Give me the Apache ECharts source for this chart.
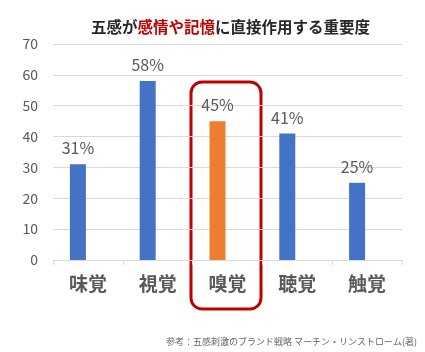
<!DOCTYPE html>
<html>
<head>
<meta charset="utf-8">
<script src="https://cdn.jsdelivr.net/npm/echarts@6/dist/echarts.min.js"></script>
<style>
    html, body { margin: 0; padding: 0; background: #fff; }
    #chart { width: 425px; height: 352px; }
</style>
</head>
<body>
<div id="chart"></div>
<script>
// 五感
var categories = ["味覚", "視覚", "嗅覚", "聴覚", "触覚"];
// 重要度(%)
var importance = [31, 58, 45, 41, 25];
// 強調する項目
var highlightIndex = 2;
// 縦軸の目盛り
var yMin = 0, yMax = 70, yStep = 10;

var font = "'Noto Sans CJK JP', 'Noto Sans', sans-serif";

var barData = importance.map(function (v, i) {
    return {
        value: v,
        itemStyle: {color: i === highlightIndex ? "#ed7d31" : "#4472c4"}
    };
});

var chart = echarts.init(document.getElementById("chart"));
var option = {
    animation: false,
    title: {
        text: "{b|五感が}{r|感情や記憶}{b|に直接作用する重要度}",
        left: 86,
        top: 14,
        textStyle: {
            rich: {
                b: {fontFamily: font, fontSize: 15.5, fontWeight: "bold", color: "#262626"},
                r: {fontFamily: font, fontSize: 15.5, fontWeight: "bold", color: "#c00000"}
            }
        }
    },
    grid: {left: 53, right: 23, top: 44, bottom: 92},
    xAxis: {
        type: "category",
        data: categories,
        axisLine: {lineStyle: {color: "#d9d9d9"}},
        axisTick: {show: true, length: 5, lineStyle: {color: "#d9d9d9"}},
        axisLabel: {
            fontFamily: font,
            fontSize: 19,
            fontWeight: "bold",
            color: "#595959",
            margin: 14
        }
    },
    yAxis: {
        type: "value",
        min: yMin,
        max: yMax,
        interval: yStep,
        axisLine: {show: false},
        axisTick: {show: false},
        splitLine: {lineStyle: {color: "#d9d9d9"}},
        axisLabel: {
            fontFamily: font,
            fontSize: 14,
            color: "#595959",
            margin: 15
        }
    },
    series: [{
        type: "bar",
        data: barData,
        barWidth: 16,
        barGap: "25%",
        label: {
            show: true,
            position: "top",
            distance: 8,
            formatter: "{c}%",
            fontFamily: font,
            fontSize: 16,
            color: "#595959"
        }
    }, {
        // 空の系列(棒を左に寄せるため)
        type: "bar",
        data: categories.map(function () { return "-"; }),
        barWidth: 16
    }],
    graphic: [{
        type: "rect",
        shape: {x: 191, y: 82, width: 70, height: 227, r: 11},
        style: {fill: "none", stroke: "#c00000", lineWidth: 3}
    }, {
        type: "text",
        right: 8,
        top: 337,
        style: {
            text: "参考：五感刺激のブランド戦略 マーチン・リンストローム(著)",
            font: "9px " + font,
            fill: "#666666"
        }
    }]
};
chart.setOption(option);
</script>
</body>
</html>
